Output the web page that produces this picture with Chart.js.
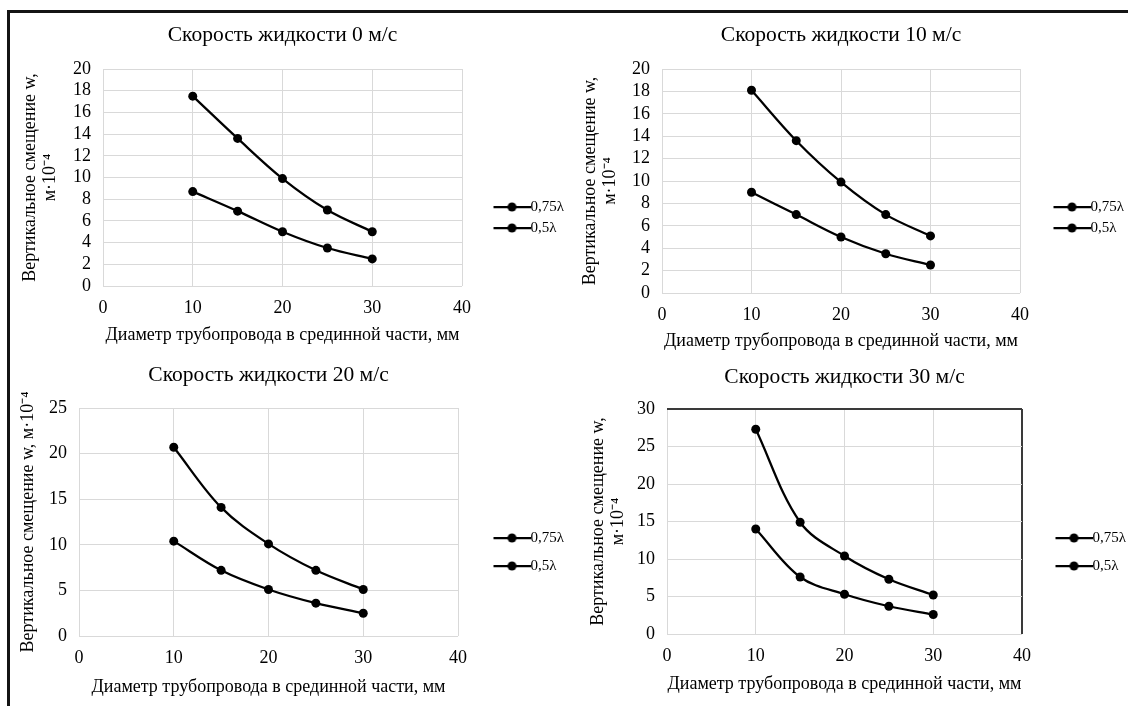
<!DOCTYPE html>
<html>
<head>
<meta charset="utf-8">
<script src="https://cdn.jsdelivr.net/npm/chart.js@4.4.0/dist/chart.umd.min.js"></script>
<style>
  html, body { margin: 0; padding: 0; background: #fff; overflow: hidden; }
  body { position: relative; width: 1128px; height: 706px; }
  #frame {
    position: absolute; left: 7px; top: 10px; width: 1200px; height: 800px;
    border-top: 3px solid #141414; border-left: 3px solid #141414;
  }
  canvas { position: absolute; }
</style>
</head>
<body>
<div id="frame"></div>
<canvas id="chart0"></canvas>
<canvas id="chart1"></canvas>
<canvas id="chart2"></canvas>
<canvas id="chart3"></canvas>
<script>
// diameter of the pipe, mm
const diameters = [10, 15, 20, 25, 30];
const seriesLabels = ["0,75λ", "0,5λ"];
const panelTitles = [
  "Скорость жидкости 0 м/с",
  "Скорость жидкости 10 м/с",
  "Скорость жидкости 20 м/с",
  "Скорость жидкости 30 м/с",
];
const xTitle = "Диаметр трубопровода в срединной части, мм";
const yTitleTwoLines = ["Вертикальное смещение w,", "м·10⁻⁴"];
const yTitleOneLine = "Вертикальное смещение w, м·10⁻⁴";

// vertical displacement w, m·10^-4
const w075_v0 = [17.5, 13.6, 9.9, 7.0, 5.0];
const w05_v0 = [8.7, 6.9, 5.0, 3.5, 2.5];
const w075_v10 = [18.1, 13.6, 9.9, 7.0, 5.1];
const w05_v10 = [9.0, 7.0, 5.0, 3.5, 2.5];
const w075_v20 = [20.7, 14.1, 10.1, 7.2, 5.1];
const w05_v20 = [10.4, 7.2, 5.1, 3.6, 2.5];
const w075_v30 = [27.3, 14.9, 10.4, 7.3, 5.2];
const w05_v30 = [14.0, 7.6, 5.3, 3.7, 2.6];

const xMax = 40;
const xStep = 10;
const yMaxes = [20, 20, 25, 30];
const ySteps = [2, 2, 5, 5];

const FONT = "'Liberation Serif', 'Times New Roman', serif";
const TEXT = "#000";
const GRID = "#d9d9d9";
const LEGEND_SIZE = 15;
const LINE_LEN = 37;
const TICK_PAD = 11;
const Y_TICK_PAD = 12;

// page boxes: canvas [x, y, w, h], plot area [left, top, right, bottom]
const layoutBoxes = [
  { canvas: [0, 12, 600, 350], area: [103, 69, 462, 286], titleGap: 21, legendY: 207, legendGap: 21, legendX: 493, yTitleGap: 1, xTitleGap: -5, framed: false },
  { canvas: [560, 12, 640, 350], area: [662, 69, 1020, 293], titleGap: 21, legendY: 207, legendGap: 21, legendX: 1053, yTitleGap: 0, xTitleGap: -6, framed: false },
  { canvas: [0, 350, 600, 356], area: [79, 408, 458, 636], titleGap: 20, legendY: 538, legendGap: 28, legendX: 493, yTitleGap: -1, xTitleGap: -3, framed: false },
  { canvas: [560, 350, 640, 356], area: [667, 409, 1022, 634], titleGap: 19, legendY: 538, legendGap: 28, legendX: 1055, yTitleGap: -3, xTitleGap: -4, framed: true },
];

function legendIcon(width) {
  const c = document.createElement("canvas");
  c.width = width;
  c.height = 12;
  const ctx = c.getContext("2d");
  ctx.strokeStyle = "#000";
  ctx.fillStyle = "#000";
  ctx.lineWidth = 2.25;
  ctx.beginPath();
  ctx.moveTo(width - LINE_LEN, 6);
  ctx.lineTo(width, 6);
  ctx.stroke();
  ctx.beginPath();
  ctx.arc(width - LINE_LEN / 2, 6, 4.5, 0, Math.PI * 2);
  ctx.fill();
  return c;
}

function buildChart(n, upper, lower, yTitle) {
  const box = layoutBoxes[n];
  const [cx, cy, cw, ch] = box.canvas;
  const canvas = document.getElementById("chart" + n);
  canvas.width = cw;
  canvas.height = ch;
  canvas.style.left = cx + "px";
  canvas.style.top = cy + "px";

  const area = {
    left: box.area[0] - cx,
    top: box.area[1] - cy,
    right: box.area[2] - cx,
    bottom: box.area[3] - cy,
  };
  const half = LEGEND_SIZE / 2;
  const legendPad = box.legendGap - LEGEND_SIZE;
  const iconWidth = Math.round(box.legendX + LINE_LEN + half - (box.area[2] + legendPad));
  const legendTitleTop = box.legendY - half - box.area[1] - legendPad - 1.2;
  const yMax = yMaxes[n];

  const edgeColor = (value, max) => (box.framed && value === max ? "#3a3a3a" : GRID);
  const edgeWidth = (value, max) => (box.framed && value === max ? 2 : 1);

  const pad = { left: 0, top: 0, right: 0, bottom: 0 };
  const lineStyle = {
    borderColor: "#000",
    backgroundColor: "#000",
    borderWidth: 2.25,
    pointRadius: 4.5,
    pointBackgroundColor: "#000",
    pointBorderColor: "#000",
    pointBorderWidth: 0,
    tension: 0.35,
    fill: false,
  };

  const chart = new Chart(canvas, {
    type: "line",
    data: {
      datasets: [
        { label: seriesLabels[0], data: diameters.map((d, k) => ({ x: d, y: upper[k] })), ...lineStyle },
        { label: seriesLabels[1], data: diameters.map((d, k) => ({ x: d, y: lower[k] })), ...lineStyle },
      ],
    },
    options: {
      responsive: false,
      animation: false,
      layout: { padding: pad },
      plugins: {
        tooltip: { enabled: false },
        title: {
          display: true,
          text: panelTitles[n],
          fullSize: false,
          color: TEXT,
          font: { family: FONT, size: 21.5, weight: "normal" },
          padding: { top: 0, bottom: box.titleGap },
        },
        legend: {
          position: "right",
          align: "start",
          fullSize: false,
          title: { display: true, text: "", font: { size: 1 }, padding: { top: legendTitleTop, bottom: 0 } },
          labels: {
            usePointStyle: true,
            pointStyle: legendIcon(iconWidth),
            pointStyleWidth: iconWidth - 2 * half,
            padding: legendPad,
            color: TEXT,
            font: { family: FONT, size: LEGEND_SIZE },
          },
        },
      },
      scales: {
        x: {
          type: "linear",
          min: 0,
          max: xMax,
          ticks: { stepSize: xStep, padding: TICK_PAD, maxRotation: 0, color: TEXT, font: { family: FONT, size: 18 } },
          grid: {
            drawTicks: false,
            color: (ctx) => edgeColor(ctx.tick && ctx.tick.value, xMax),
            lineWidth: (ctx) => edgeWidth(ctx.tick && ctx.tick.value, xMax),
          },
          border: { display: false },
          title: {
            display: true,
            text: xTitle,
            color: TEXT,
            font: { family: FONT, size: 18 },
            padding: { top: box.xTitleGap, bottom: 0 },
          },
        },
        y: {
          min: 0,
          max: yMax,
          ticks: { stepSize: ySteps[n], autoSkip: false, padding: Y_TICK_PAD, color: TEXT, font: { family: FONT, size: 18 } },
          grid: {
            drawTicks: false,
            color: (ctx) => edgeColor(ctx.tick && ctx.tick.value, yMax),
            lineWidth: (ctx) => edgeWidth(ctx.tick && ctx.tick.value, yMax),
          },
          border: { display: false },
          title: {
            display: true,
            text: yTitle,
            color: TEXT,
            font: { family: FONT, size: 18, lineHeight: 1.1 },
            padding: { top: 0, bottom: box.yTitleGap },
          },
        },
      },
    },
  });

  // move the plot area onto the same place as in the original figure
  const ca = chart.chartArea;
  pad.left += area.left - ca.left;
  pad.right += ca.right - area.right;
  pad.top += area.top - ca.top;
  pad.bottom += ca.bottom - area.bottom;
  chart.update();
  return chart;
}

buildChart(0, w075_v0, w05_v0, yTitleTwoLines);
buildChart(1, w075_v10, w05_v10, yTitleTwoLines);
buildChart(2, w075_v20, w05_v20, yTitleOneLine);
buildChart(3, w075_v30, w05_v30, yTitleTwoLines);
</script>
</body>
</html>
